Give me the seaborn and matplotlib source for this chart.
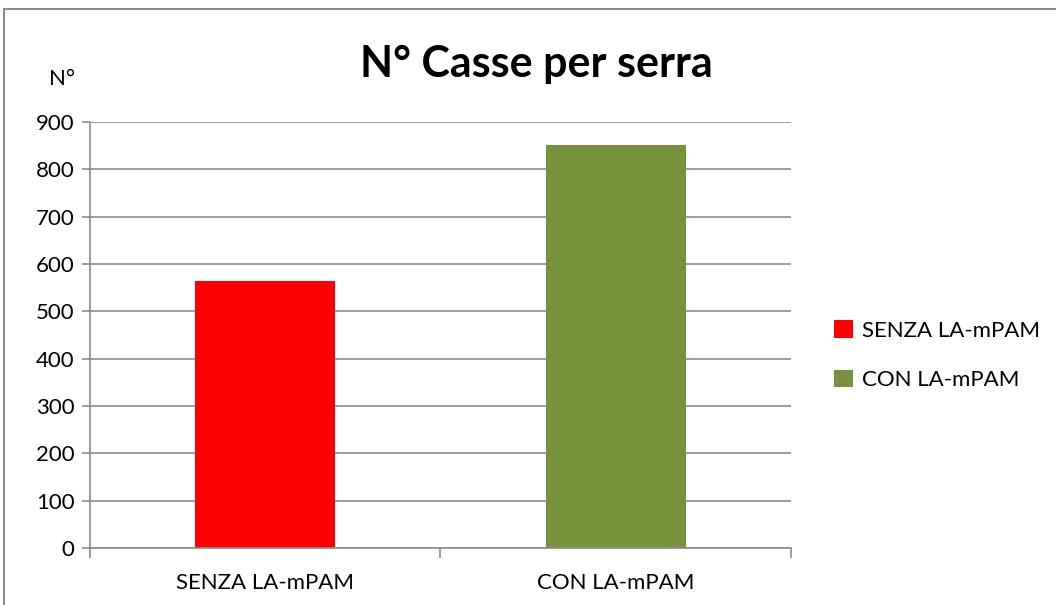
import pandas as pd
import seaborn as sns
import matplotlib.pyplot as plt
from matplotlib.patches import Rectangle

#----------------------
# Data
#----------------------

categories = ['SENZA LA-mPAM', 'CON LA-mPAM']
casse = [564, 852]
colors = ['#FF0000', '#77933C']
y_ticks = [0, 100, 200, 300, 400, 500, 600, 700, 800, 900]

df = pd.DataFrame({'Gruppo': categories, 'Casse': casse})

#----------------------
# Style
#----------------------

sns.set_style('white')
plt.rcParams['font.family'] = ['Lato', 'DejaVu Sans']
plt.rcParams['text.color'] = 'black'

fig = plt.figure(figsize=(10.56, 6.05), dpi=100)
ax = fig.add_axes([0.0852, 0.0942, 0.6638, 0.7041])

sns.barplot(
    data=df,
    x='Gruppo',
    y='Casse',
    hue='Gruppo',
    palette=colors,
    width=0.4,
    dodge=False,
    saturation=1,
    legend=True,
    linewidth=0,
    ax=ax
)

#----------------------
# Axes cosmetics
#----------------------

ax.set_ylim(0, 900)
ax.set_xlim(-0.5, 1.5)
ax.set_yticks(y_ticks)
ax.set_yticklabels([str(t) for t in y_ticks], fontsize=16, color='black')
ax.set_xticks([0, 1])
ax.set_xticklabels(categories, fontsize=16, color='black')
ax.set_xticks([-0.5, 0.5, 1.5], minor=True)
ax.tick_params(axis='x', which='major', length=0, pad=18, bottom=False)
ax.tick_params(axis='x', which='minor', length=7, color='#8C8C8C', width=1.2,
               direction='out', bottom=True)
ax.tick_params(axis='y', length=6, color='#8C8C8C', width=1.2, direction='out', left=True, pad=5)
ax.yaxis.grid(True, color='#8C8C8C', linewidth=1.2)
ax.set_axisbelow(True)
for side in ['top', 'right']:
    ax.spines[side].set_visible(False)
for side in ['left', 'bottom']:
    ax.spines[side].set_color('#8C8C8C')
    ax.spines[side].set_linewidth(1.2)
ax.set_xlabel('')
ax.set_ylabel('')

#----------------------
# Legend, titles, frame
#----------------------

leg = ax.legend(
    loc='center left',
    bbox_to_anchor=(0.771, 0.413),
    bbox_transform=fig.transFigure,
    frameon=False,
    fontsize=16,
    handlelength=0.85,
    handleheight=0.85,
    handletextpad=0.4,
    labelspacing=1.3
)
for t in leg.get_texts():
    t.set_color('black')

fig.text(0.508, 0.895, 'N° Casse per serra', ha='center', va='center',
         fontsize=31, fontweight='bold', color='black')
fig.text(0.059, 0.87, 'N°', ha='center', va='center', fontsize=16, color='black')

fig.patches.append(Rectangle((0.004, -0.1), 1.2, 1.085, transform=fig.transFigure,
                             fill=False, edgecolor='#8C8C8C', linewidth=1.5))

fig.savefig('out.png', dpi=100, facecolor='white')
